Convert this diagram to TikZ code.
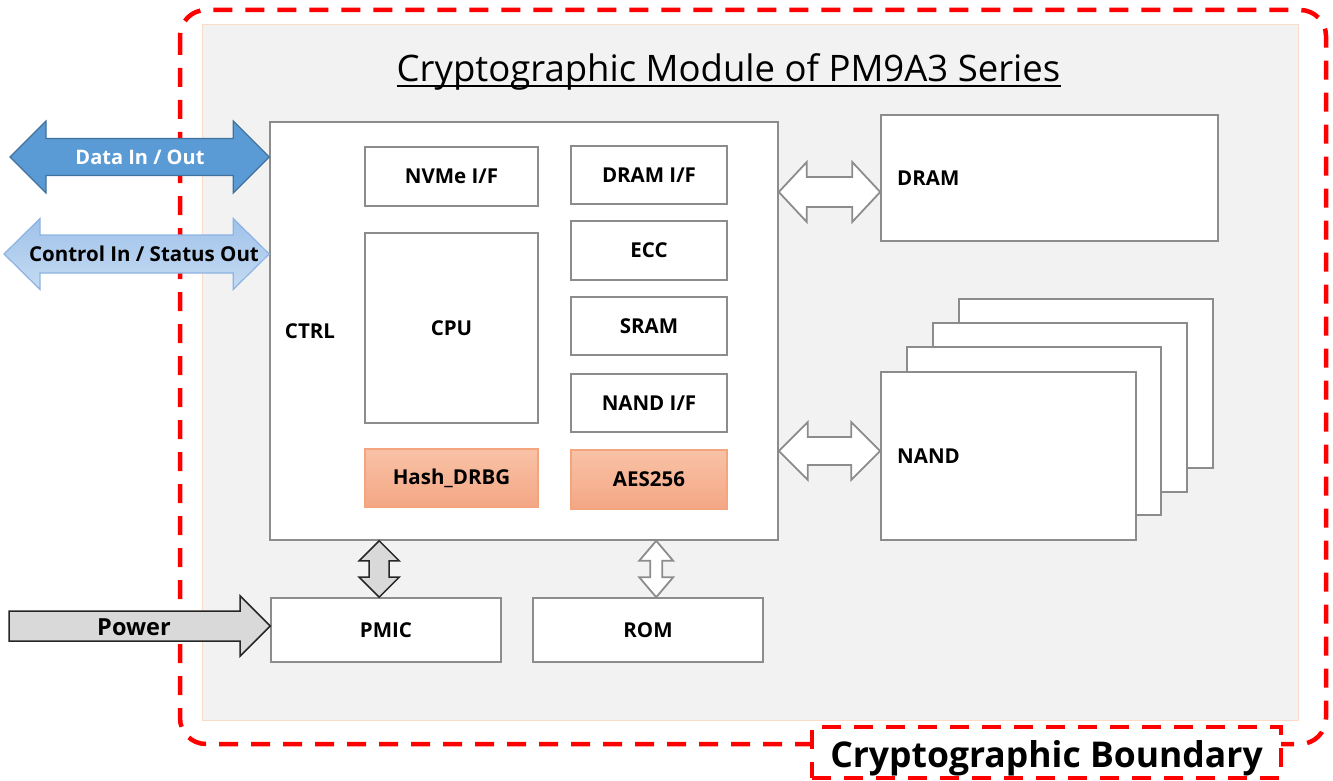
\documentclass[tikz,border=0pt]{standalone}
\usepackage{fontspec}
\setmainfont{Open Sans}
\usetikzlibrary{calc}
\definecolor{panelgray}{HTML}{F2F2F2}
\definecolor{panelborder}{HTML}{FADBC8}
\definecolor{boxgray}{HTML}{8C8C8C}
\definecolor{bred}{HTML}{FF0000}
\definecolor{orTop}{HTML}{F8C2A6}
\definecolor{orBot}{HTML}{F4A784}
\definecolor{orBorder}{HTML}{F2A57E}
\definecolor{dataBlue}{HTML}{5B9BD5}
\definecolor{dataBorder}{HTML}{41719C}
\definecolor{ctlTop}{HTML}{9FC2EA}
\definecolor{ctlBot}{HTML}{C5DBF2}
\definecolor{ctlBorder}{HTML}{8DB3E2}
\definecolor{pwrFill}{HTML}{D9D9D9}
\definecolor{pwrBorder}{HTML}{262626}
\newcommand\hdarrow[6]{% style, left point, right point, shaft half, head half, head length
  \path[#1] let \p1=(#2), \p2=(#3) in
  (\x1,\y1) -- (\x1+#6pt,\y1+#5pt) -- (\x1+#6pt,\y1+#4pt) -- (\x2-#6pt,\y1+#4pt)
  -- (\x2-#6pt,\y1+#5pt) -- (\x2,\y1) -- (\x2-#6pt,\y1-#5pt) -- (\x2-#6pt,\y1-#4pt)
  -- (\x1+#6pt,\y1-#4pt) -- (\x1+#6pt,\y1-#5pt) -- cycle;}
\newcommand\vdarrow[6]{% style, top point, bottom point, shaft half, head half, head length
  \path[#1] let \p1=(#2), \p2=(#3) in
  (\x1,\y1) -- (\x1+#5pt,\y1-#6pt) -- (\x1+#4pt,\y1-#6pt) -- (\x1+#4pt,\y2+#6pt)
  -- (\x1+#5pt,\y2+#6pt) -- (\x1,\y2) -- (\x1-#5pt,\y2+#6pt) -- (\x1-#4pt,\y2+#6pt)
  -- (\x1-#4pt,\y1-#6pt) -- (\x1-#5pt,\y1-#6pt) -- cycle;}
\newcommand\hsarrow[6]{% style, left point, right point, shaft half, head half, head length
  \path[#1] let \p1=(#2), \p2=(#3) in
  (\x1,\y1+#4pt) -- (\x2-#6pt,\y1+#4pt) -- (\x2-#6pt,\y1+#5pt) -- (\x2,\y1)
  -- (\x2-#6pt,\y1-#5pt) -- (\x2-#6pt,\y1-#4pt) -- (\x1,\y1-#4pt) -- cycle;}
\tikzset{
  box/.style={draw=boxgray, line width=1.6pt, fill=white, inner sep=0pt,
    font=\bfseries\fontsize{20.5pt}{24pt}\selectfont},
  orbox/.style={box, draw=orBorder, top color=orTop, bottom color=orBot},
  lbl/.style={inner sep=0pt, font=\bfseries\fontsize{20.5pt}{24pt}\selectfont},
  boundary/.style={draw=bred, line width=4.5pt, dash pattern=on 19pt off 13pt},
  whitearrow/.style={fill=white, draw=boxgray, line width=1.8pt},
  grayarrow/.style={fill=pwrFill, draw=pwrBorder, line width=1.5pt},
  dataarrow/.style={fill=dataBlue, draw=dataBorder, line width=1.2pt},
  ctlarrow/.style={top color=ctlTop, bottom color=ctlBot, draw=ctlBorder, line width=1.2pt},
}
\begin{document}
\begin{tikzpicture}[x=1pt,y=-1pt]
\useasboundingbox (0,0) rectangle (1333,781);
% panel and boundary
\filldraw[fill=panelgray, draw=panelborder, line width=1pt] (202,25) rectangle (1298,720);
\draw[boundary, rounded corners=26pt] (180,10) rectangle (1326,744);
\node[draw=bred, line width=4.5pt, dash pattern=on 19pt off 13pt, fill=white,
  minimum width=469pt, minimum height=51pt, inner sep=0pt] (blabel) at (1046.5,752.5) {};
\node[inner sep=0pt, anchor=base, font=\bfseries\fontsize{35.5pt}{40pt}\selectfont]
  (btext) at (1046.5,767) {Cryptographic Boundary};
% title
\node[inner sep=0pt, anchor=base, font=\fontsize{36.5pt}{42pt}\selectfont] (title) at (728.5,82)
  {Cryptographic Module of PM9A3 Series};
\draw[line width=1.6pt] ([yshift=-4pt]title.base west) -- ([yshift=-4pt]title.base east);
% controller
\node[box, minimum width=508pt, minimum height=418pt] (ctrl) at (524,331) {};
\node[lbl] (ctrltext) at (310,331) {CTRL};
\node[box, minimum width=173pt, minimum height=59pt] (nvme) at (451.5,176.5) {NVMe I/F};
\node[box, minimum width=173pt, minimum height=190pt] (cpu) at (451.5,328) {CPU};
\node[orbox, minimum width=173pt, minimum height=58pt] (hash) at (451.5,478) {Hash\_DRBG};
\node[box, minimum width=156pt, minimum height=58pt] (dramif) at (649,175) {DRAM I/F};
\node[box, minimum width=156pt, minimum height=59pt] (ecc) at (649,250.5) {ECC};
\node[box, minimum width=156pt, minimum height=58pt] (sram) at (649,326) {SRAM};
\node[box, minimum width=156pt, minimum height=58pt] (nandif) at (649,403) {NAND I/F};
\node[orbox, minimum width=156pt, minimum height=59pt] (aes) at (649,479.5) {AES256};
% DRAM
\node[box, minimum width=337pt, minimum height=126pt] (dram) at (1049.5,178) {};
\node[lbl, anchor=west] (dramtext) at (897,178) {DRAM};
% NAND stack
\node[box, minimum width=254pt, minimum height=169pt] (nand4) at (1086,383.5) {};
\node[box, minimum width=254pt, minimum height=169pt] (nand3) at (1060,407.5) {};
\node[box, minimum width=254pt, minimum height=168pt] (nand2) at (1034,431) {};
\node[box, minimum width=255pt, minimum height=168pt] (nand1) at (1008.5,456) {};
\node[lbl, anchor=west] (nandtext) at (897,456) {NAND};
% PMIC, ROM
\node[box, minimum width=230pt, minimum height=64pt] (pmic) at (386,630) {PMIC};
\node[box, minimum width=230pt, minimum height=64pt] (rom) at (648,630) {ROM};
% connectors
\coordinate (dramY) at (0,192);
\coordinate (nandY) at (0,451);
\hdarrow{whitearrow}{ctrl.east |- dramY}{dram.west}{15}{30}{28}
\hdarrow{whitearrow}{ctrl.east |- nandY}{nand1.west}{14}{29}{29}
\vdarrow{grayarrow}{[xshift=110pt]ctrl.south west}{pmic.north}{10}{20}{20}
\vdarrow{whitearrow}{[xshift=387pt]ctrl.south west}{rom.north}{6}{17}{20}
% external arrows
\coordinate (dataL) at (10,157);
\coordinate (ctlL) at (4,254);
\coordinate (pwrL) at (9,626);
\hdarrow{dataarrow}{dataL}{ctrl.west}{18.5}{36}{36}
\hdarrow{ctlarrow}{ctlL}{ctrl.west}{19}{35.5}{36}
\hsarrow{grayarrow}{pwrL}{pmic.west}{15}{30}{30}
\node[lbl, text=white, font=\bfseries\fontsize{20pt}{23pt}\selectfont] (datatext) at (140,157) {Data In / Out};
\node[lbl, font=\bfseries\fontsize{20.5pt}{23pt}\selectfont] (ctltext) at (144,254) {Control In / Status Out};
\node[lbl, font=\bfseries\fontsize{23.5pt}{27pt}\selectfont] (pwrtext) at (134,627) {Power};
\end{tikzpicture}
\end{document}
